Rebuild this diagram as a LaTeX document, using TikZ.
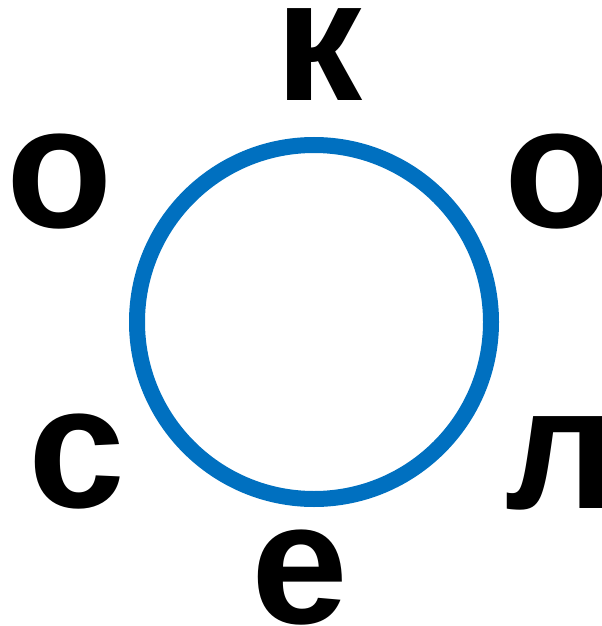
\documentclass[tikz,border=0pt]{standalone}
\usepackage{fontspec}
\setmainfont{Liberation Sans}
\definecolor{ringblue}{HTML}{0070C0}
\begin{document}
\begin{tikzpicture}[x=0.5pt,y=-0.5pt,
  letter/.style={font=\fontsize{87pt}{90pt}\selectfont\bfseries, inner sep=0pt, text height=46pt, text depth=0pt, anchor=center},
  ring/.style={draw=ringblue, line width=8pt}]
\useasboundingbox (0,0) rectangle (601,626);
\node[ring, circle, minimum size=177pt, inner sep=0pt] (c) at (314,322) {};
\node[letter] (k) at (319,55) {к};
\node[letter] (o1) at (60,181) {о};
\node[letter] (o2) at (558,181) {о};
\node[letter] (s) at (77,461) {с};
\node[letter] (l) at (561,462) {л};
\node[letter] (e) at (300,577) {е};
\end{tikzpicture}
\end{document}
